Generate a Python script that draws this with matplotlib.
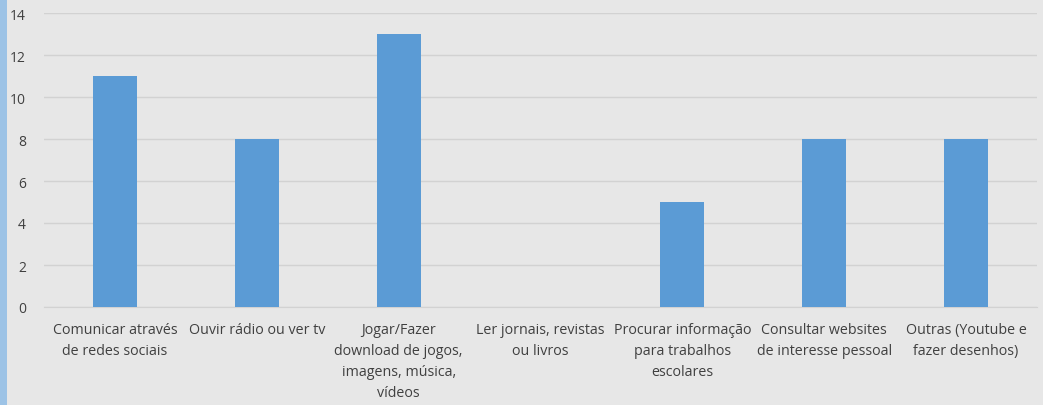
import matplotlib.pyplot as plt
from matplotlib.patches import Rectangle

categories = ["Comunicar através\nde redes sociais",
              "Ouvir rádio ou ver tv",
              "Jogar/Fazer\ndownload de jogos,\nimagens, música,\nvídeos",
              "Ler jornais, revistas\nou livros",
              "Procurar informação\npara trabalhos\nescolares",
              "Consultar websites\nde interesse pessoal",
              "Outras (Youtube e\nfazer desenhos)"]
values = [11, 8, 13, 0, 5, 8, 8]
yticks = [0, 2, 4, 6, 8, 10, 12, 14]

plt.rcParams['font.family'] = ['Open Sans', 'DejaVu Sans']
bg = '#e7e7e7'
txt = '#404040'

fig = plt.figure(figsize=(10.43, 4.06), dpi=100, facecolor=bg)
fig.patches.append(Rectangle((0, 0), 7 / 1043, 1, transform=fig.transFigure,
                             facecolor='#9dc3e6', edgecolor='none'))
ax = fig.add_axes([44 / 1043, 98 / 406, 993 / 1043, 294 / 406])
ax.set_facecolor(bg)

x = range(len(categories))
ax.bar(x, values, width=0.31, color='#5b9bd5', zorder=3)
ax.set_xlim(-0.5, len(categories) - 0.5)
ax.set_ylim(0, 14)
ax.set_yticks(yticks)
ax.set_xticks(list(x))
ax.set_xticklabels(categories, fontsize=10.3, color=txt, linespacing=1.55)
ax.tick_params(axis='y', labelsize=10, labelcolor=txt, length=0, pad=13)
ax.tick_params(axis='x', length=0, pad=11)
ax.grid(axis='y', color='#d2d2d2', linewidth=1, zorder=0)
for s in ['top', 'right', 'left']:
    ax.spines[s].set_visible(False)
ax.spines['bottom'].set_color('#d2d2d2')

fig.savefig('out.png', facecolor=bg)
